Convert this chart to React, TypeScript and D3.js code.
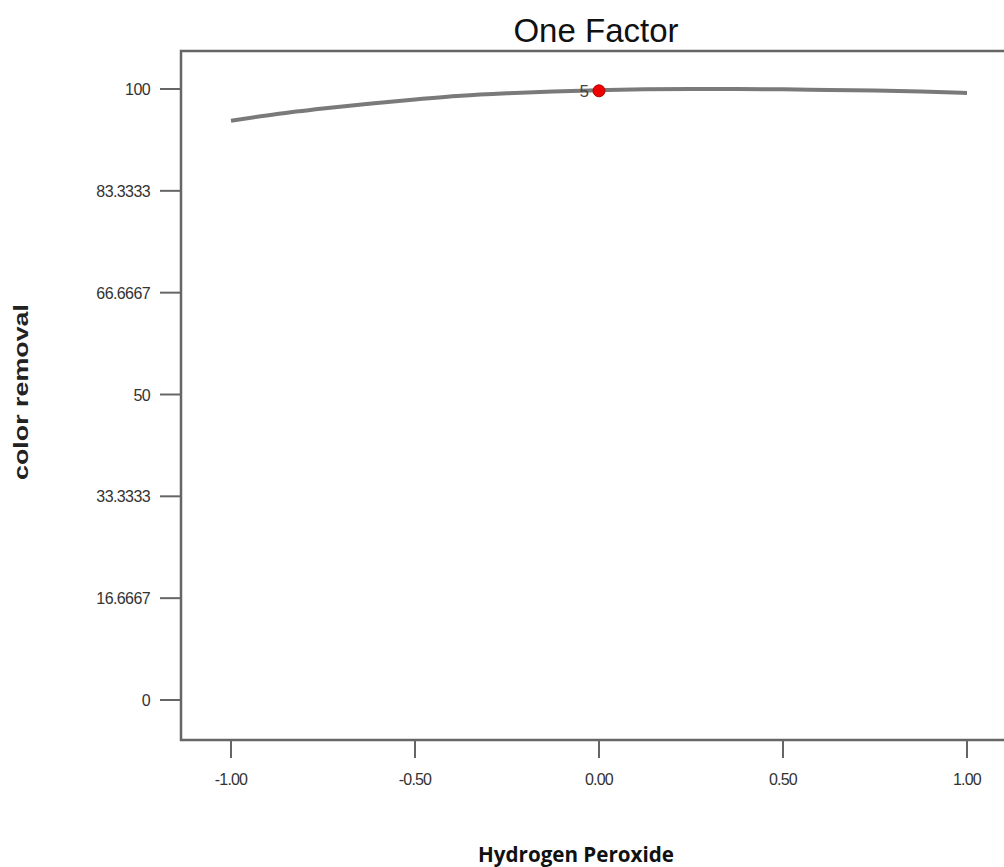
import React from "react";
import * as d3 from "d3";

const xTicks = [-1.0, -0.5, 0.0, 0.5, 1.0];
const yTicks = [0, 16.6667, 33.3333, 50, 66.6667, 83.3333, 100];
const yTickLabels = ["0", "16.6667", "33.3333", "50", "66.6667", "83.3333", "100"];
const curveX = [-1.0, -0.875, -0.75, -0.625, -0.5, -0.375, -0.25, -0.125, 0.0, 0.125, 0.25, 0.375, 0.5, 0.625, 0.75, 0.875, 1.0];
const curveY = [94.8, 95.9, 96.8, 97.6, 98.3, 98.9, 99.3, 99.6, 99.8, 99.95, 100.0, 100.0, 99.95, 99.85, 99.75, 99.6, 99.35];
const pointX = [0.0];
const pointY = [99.7];
const pointLabel = ["5"];

export default function App() {
  const W = 1004, H = 867;
  const x = d3.scaleLinear().domain([-1, 1]).range([231, 967]);
  const y = d3.scaleLinear().domain([0, 100]).range([700, 89]);
  const boxL = 181, boxT = 51, boxB = 740, boxR = 1010;
  const line = d3.line<number>().x((_, i) => x(curveX[i])).y((d) => y(d)).curve(d3.curveMonotoneX);
  const sans = "'Liberation Sans', Arial, sans-serif";
  return (
    <div style={{ position: "absolute", left: 0, top: 0 }}>
      <svg width={W} height={H} style={{ display: "block", background: "#fff" }}>
        <text x={596} y={42} textAnchor="middle" fontFamily={sans} fontSize={33} fill="#111">One Factor</text>
        <rect x={boxL} y={boxT} width={boxR - boxL} height={boxB - boxT} fill="none" stroke="#666" strokeWidth={2.5} />
        {yTicks.map((t, i) => (
          <g key={"y" + i}>
            <line x1={160} x2={boxL} y1={y(t)} y2={y(t)} stroke="#666" strokeWidth={2} />
            <text x={150} y={y(t) + 6} textAnchor="end" fontFamily={sans} fontSize={16} fill="#333" style={{ letterSpacing: "-0.6px" }}>{yTickLabels[i]}</text>
          </g>
        ))}
        {xTicks.map((t, i) => (
          <g key={"x" + i}>
            <line x1={x(t)} x2={x(t)} y1={boxB} y2={758} stroke="#666" strokeWidth={2} />
            <text x={x(t)} y={785} textAnchor="middle" fontFamily={sans} fontSize={16} fill="#333" style={{ letterSpacing: "-0.8px" }}>{t.toFixed(2)}</text>
          </g>
        ))}
        <path d={line(curveY) || ""} fill="none" stroke="#7a7a7a" strokeWidth={4} />
        {pointX.map((p, i) => (
          <g key={"p" + i}>
            <circle cx={x(p)} cy={y(pointY[i])} r={6} fill="#ee0000" stroke="#b00000" strokeWidth={1} />
            <text x={x(p) - 10} y={y(pointY[i]) + 6} textAnchor="end" fontFamily={sans} fontSize={17} fill="#444">{pointLabel[i]}</text>
          </g>
        ))}
        <text transform={`translate(28,392) rotate(-90)`} textAnchor="middle" fontFamily={sans} fontWeight="bold" fontSize={20} fill="#222" textLength={176} lengthAdjust="spacingAndGlyphs">color removal</text>
        <text x={576} y={862} textAnchor="middle" fontFamily="'Open Sans', 'Noto Sans', sans-serif" fontWeight="bold" fontSize={21} fill="#111" textLength={196} lengthAdjust="spacingAndGlyphs">Hydrogen Peroxide</text>
      </svg>
    </div>
  );
}
